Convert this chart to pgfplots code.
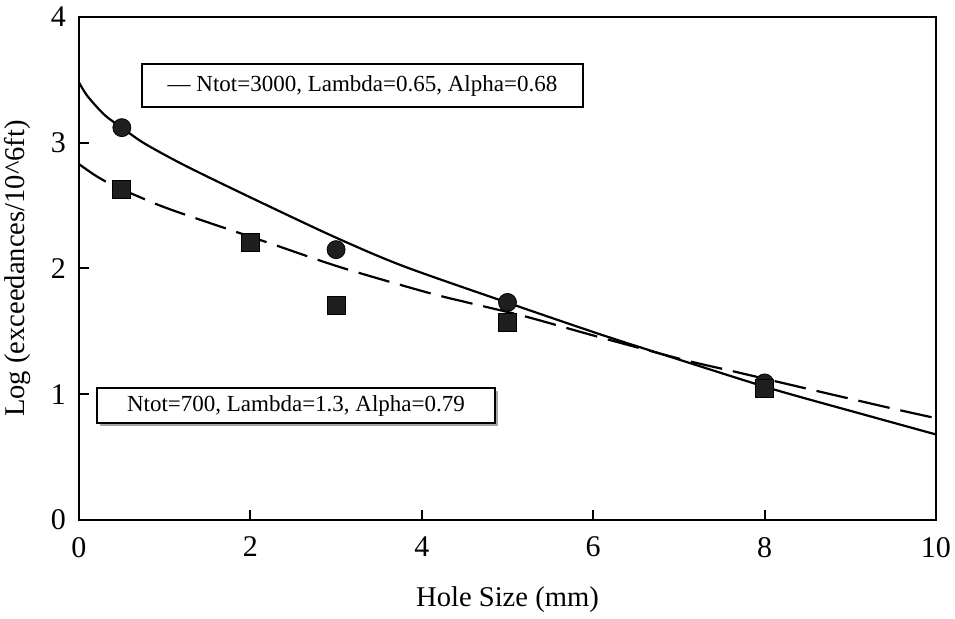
\documentclass[border=0pt]{standalone}
\usepackage{fontspec}
\setmainfont{Liberation Serif}
\usepackage{pgfplots}
\pgfplotsset{compat=1.18}
\usetikzlibrary{shadows}
\begin{document}
\begin{tikzpicture}
\begin{axis}[at={(0,0)}, anchor=south west, scale only axis,
  width=428.5pt, height=251.5pt,
  xmin=0, xmax=10, ymin=0, ymax=4,
  xtick={0,2,4,6,8,10}, ytick={0,1,2,3,4},
  axis line style={line width=1pt},
  tick style={line width=1pt, black},
  major tick length=5pt, tick align=inside,
  xtick pos=left, ytick pos=left,
  /pgf/number format/assume math mode=true,
  ticklabel style={font=\fontsize{15}{17}\selectfont},
  yticklabel style={xshift=-3pt},
  xticklabel style={yshift=-5pt},
  xlabel={Hole Size (mm)},
  ylabel={Log (exceedances/10\textasciicircum 6ft)},
  label style={font=\fontsize{14.3}{17}\selectfont},
  xlabel style={at={([yshift=-40pt]axis description cs:0.5,0)}, anchor=center},
  ylabel style={at={([xshift=-30.5pt]axis description cs:0,0.5)}, anchor=center},
  clip=false,
]
% fitted curve Ntot=3000
\addplot[black, line width=1.1pt, smooth, tension=0.5] coordinates {
 (0,3.48) (0.1,3.37) (0.3,3.22) (0.5,3.12) (0.75,3.00) (1.12,2.86) (1.5,2.73)
 (2.14,2.52) (3.0,2.245) (3.78,2.02) (4.95,1.74) (6.11,1.47)
 (7.05,1.265) (8.10,1.04) (9.15,0.84) (10,0.68)};
% fitted curve Ntot=700
\addplot[black, line width=1.1pt, dash pattern=on 16pt off 5.5pt, smooth, tension=0.5] coordinates {
 (0,2.83) (0.19,2.74) (0.385,2.665) (0.65,2.585) (1.085,2.465) (2.23,2.20)
 (3.05,2.01) (4.06,1.81) (4.53,1.73) (5.2,1.62) (6.04,1.46) (7.05,1.275)
 (7.68,1.175) (8.49,1.045) (9.5,0.885) (10,0.81)};
% data circles
\addplot[only marks, mark=*, mark size=4.5pt, mark options={fill=black!88, draw=black}] coordinates {
 (0.5,3.12) (3,2.15) (5,1.73) (8,1.09)};
% data squares
\addplot[only marks, mark=square*, mark size=4.5pt, mark options={fill=black!88, draw=black}] coordinates {
 (0.5,2.63) (2,2.21) (3,1.71) (5,1.57) (8,1.05)};
\node[draw, line width=0.8pt, fill=white, minimum width=220.5pt, minimum height=21.5pt, inner sep=0pt,
  font=\fontsize{11.5}{13}\selectfont] at (axis cs:3.308,3.455)
  {\textemdash\ Ntot=3000, Lambda=0.65, Alpha=0.68};
\node[draw, line width=0.8pt, fill=white, minimum width=199pt, minimum height=17.5pt, inner sep=0pt,
  drop shadow={shadow xshift=1.5pt, shadow yshift=-1.5pt, fill=gray!70, opacity=1},
  font=\fontsize{11.5}{13}\selectfont] at (axis cs:2.532,0.9105)
  {Ntot=700, Lambda=1.3, Alpha=0.79};
\end{axis}
\pgfresetboundingbox
\path (-39.5pt,-49.5pt) rectangle (438pt,260pt);
\end{tikzpicture}
\end{document}
